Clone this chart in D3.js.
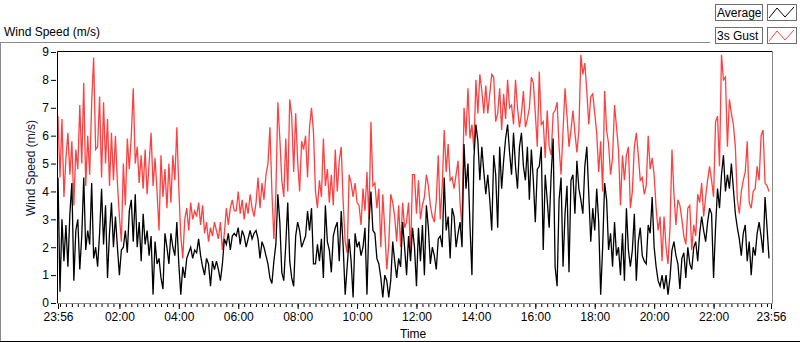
<!DOCTYPE html>
<html>
<head>
<meta charset="utf-8">
<script src="https://cdn.jsdelivr.net/npm/d3@7"></script>
<style>
  html, body { margin: 0; padding: 0; background: #fff; }
  svg { display: block; font-family: "Liberation Sans", Arial, sans-serif; }
</style>
</head>
<body>
<svg id="chart" width="800" height="342"></svg>
<script>
// series names as shown in the legend
const seriesNames = ['Average', '3s Gust'];

// one sample every 4 minutes, starting at 23:56
const stepMinutes = 4;

const yTicks = [0, 1, 2, 3, 4, 5, 6, 7, 8, 9];
const xTickLabels = ['23:56', '02:00', '04:00', '06:00', '08:00', '10:00', '12:00',
  '14:00', '16:00', '18:00', '20:00', '22:00', '23:56'];

// 3 second gust (m/s)
const gust = [
  6.7, 4.5, 6.6, 3.8, 5.2, 6.1, 4.6, 5.8, 3.5, 5.5,
  4.8, 7.1, 5.0, 7.9, 4.2, 6.0, 4.6, 7.2, 8.8, 5.5,
  5.6, 7.4, 4.5, 7.2, 5.0, 6.6, 4.2, 6.1, 4.4, 6.0,
  4.3, 3.1, 2.2, 5.0, 3.5, 5.9, 4.8, 6.0, 7.7, 5.0,
  5.6, 4.3, 5.3, 4.1, 5.5, 3.9, 5.0, 6.1, 4.2, 5.2,
  4.0, 2.6, 5.3, 3.8, 4.8, 3.4, 5.0, 3.6, 5.3, 4.4,
  6.3, 4.1, 2.4, 1.6, 3.0, 3.4, 2.6, 3.6, 3.0, 3.3,
  3.1, 3.6, 2.8, 3.5, 2.5, 2.9, 2.2, 2.7, 2.4, 2.9,
  2.6, 2.3, 2.9, 1.9, 2.5, 3.4, 2.8, 3.4, 3.7, 3.3,
  3.3, 4.0, 3.2, 3.7, 3.0, 3.6, 3.2, 3.9, 3.4, 3.1,
  3.6, 4.5, 3.4, 4.3, 3.7, 4.6, 5.0, 6.3, 4.0, 2.3,
  3.9, 7.2, 5.9, 4.4, 3.8, 5.9, 4.0, 7.3, 6.7, 4.7,
  6.8, 5.1, 4.0, 5.8, 5.5, 6.0, 4.5, 6.3, 7.0, 6.1,
  4.0, 3.4, 4.4, 3.8, 5.9, 4.2, 4.8, 3.6, 4.6, 3.5,
  5.5, 4.0, 5.1, 5.6, 3.6, 2.2, 1.8, 4.6, 4.3, 3.8,
  4.3, 3.6, 3.5, 2.8, 4.1, 3.3, 4.7, 3.0, 6.5, 4.2,
  4.3, 3.4, 4.1, 2.0, 3.9, 2.6, 1.2, 2.1, 3.9, 3.6,
  3.1, 2.2, 3.5, 2.0, 3.6, 2.7, 2.9, 3.6, 1.8, 4.6,
  4.6, 3.2, 4.4, 3.0, 3.5, 3.8, 4.6, 4.2, 3.5, 3.1,
  2.9, 3.7, 5.3, 3.0, 4.2, 6.2, 4.7, 5.7, 4.4, 4.5,
  4.1, 4.6, 5.1, 3.6, 2.7, 7.0, 6.0, 7.7, 5.9, 6.4,
  5.5, 8.0, 6.8, 8.2, 7.6, 6.8, 7.8, 6.8, 7.5, 8.2,
  8.1, 6.5, 6.8, 7.7, 6.2, 7.5, 6.6, 8.0, 7.0, 7.1,
  6.4, 8.0, 7.0, 6.3, 6.8, 7.6, 6.3, 6.6, 7.0, 8.1,
  7.9, 6.8, 5.6, 8.3, 6.4, 6.5, 5.2, 6.9, 5.6, 5.3,
  6.8, 6.9, 7.2, 5.6, 4.6, 6.2, 7.7, 6.7, 5.6, 6.2,
  6.9, 6.1, 5.4, 6.2, 8.9, 8.2, 8.6, 7.6, 6.4, 7.4,
  7.5, 6.8, 6.1, 4.7, 5.8, 4.0, 7.6, 6.2, 5.7, 4.6,
  5.2, 7.1, 6.3, 5.5, 3.5, 5.3, 4.4, 5.3, 5.6, 3.4,
  4.0, 5.6, 6.1, 5.3, 4.4, 4.5, 3.9, 4.2, 6.0, 4.8,
  5.2, 4.6, 3.4, 2.6, 3.1, 1.5, 3.1, 2.0, 1.4, 2.7,
  5.5, 3.9, 2.8, 3.7, 3.5, 3.0, 2.4, 2.1, 3.4, 3.5,
  1.9, 2.8, 2.4, 3.9, 3.6, 4.3, 3.1, 3.8, 4.4, 4.9,
  4.4, 3.8, 6.5, 6.7, 4.9, 8.9, 8.0, 8.1, 5.6, 7.3,
  6.8, 6.4, 5.6, 3.7, 3.2, 4.0, 4.4, 4.7, 5.8, 3.6,
  3.4, 4.0, 4.1, 4.9, 4.4, 6.0, 6.2, 4.3, 4.2, 4.0
];

// average wind speed (m/s)
const average = [
  4.5, 0.4, 3.0, 1.5, 2.8, 1.3, 3.2, 4.3, 0.8, 2.6,
  3.0, 1.2, 2.4, 4.5, 1.9, 2.6, 2.1, 4.3, 1.6, 2.0,
  1.3, 2.5, 4.1, 2.1, 3.5, 0.9, 2.5, 3.6, 2.0, 3.1,
  2.0, 1.0, 1.9, 2.0, 2.6, 1.8, 3.3, 3.7, 2.2, 3.9,
  2.0, 2.9, 1.5, 3.2, 2.1, 2.6, 1.7, 2.4, 0.3, 2.2,
  1.4, 1.6, 0.9, 0.5, 2.5, 2.0, 1.4, 2.5, 2.0, 1.7,
  2.9, 1.4, 0.3, 1.3, 0.9, 1.6, 1.8, 2.0, 1.6, 1.9,
  1.8, 2.3, 1.7, 1.3, 1.0, 1.6, 1.4, 0.6, 1.5, 1.2,
  1.5, 1.2, 0.8, 1.4, 2.3, 2.1, 2.5, 1.9, 2.4, 2.5,
  2.4, 2.7, 2.1, 2.6, 2.4, 2.0, 2.3, 2.6, 2.3, 2.5,
  2.6, 2.3, 1.6, 2.2, 2.0, 1.7, 1.4, 0.9, 0.7, 1.5,
  2.1, 3.9, 2.9, 1.1, 0.8, 2.1, 3.6, 1.5, 0.9, 0.6,
  2.4, 2.9, 2.6, 2.0, 2.2, 2.4, 3.3, 2.6, 3.4, 1.4,
  1.4, 2.1, 1.5, 2.3, 0.9, 3.5, 2.2, 1.9, 1.1, 2.4,
  2.7, 2.9, 1.5, 3.3, 2.0, 0.3, 1.3, 2.3, 1.5, 0.2,
  2.5, 2.0, 2.2, 1.7, 2.0, 2.7, 0.3, 2.9, 4.0, 2.6,
  2.5, 1.6, 1.4, 0.9, 0.2, 1.0, 0.8, 0.2, 0.8, 2.2,
  1.5, 0.9, 1.6, 1.3, 2.9, 2.0, 1.0, 2.4, 1.5, 2.7,
  2.0, 0.6, 2.7, 1.5, 2.8, 1.0, 3.5, 2.7, 1.4, 2.0,
  1.7, 1.2, 2.3, 2.4, 2.0, 4.5, 2.6, 3.1, 1.6, 3.4,
  3.1, 2.0, 2.5, 2.9, 2.0, 5.7, 4.1, 5.0, 2.8, 1.0,
  5.2, 6.4, 5.8, 4.4, 5.6, 4.7, 3.9, 4.6, 3.7, 2.6,
  5.3, 4.6, 2.7, 5.6, 4.1, 5.1, 5.9, 6.4, 5.4, 4.6,
  6.1, 4.9, 4.1, 5.6, 6.1, 4.9, 4.4, 5.6, 3.7, 5.5,
  4.4, 2.9, 4.8, 4.9, 5.6, 1.9, 4.6, 3.7, 2.7, 4.6,
  5.9, 1.3, 0.6, 3.7, 4.5, 1.3, 3.2, 4.2, 1.1, 4.4,
  4.6, 3.2, 5.1, 4.1, 3.7, 3.2, 4.9, 5.6, 3.9, 2.2,
  3.4, 2.6, 4.1, 2.9, 0.3, 2.0, 4.3, 3.7, 1.9, 2.5,
  1.3, 2.9, 1.7, 2.0, 1.0, 2.5, 0.8, 3.4, 1.9, 1.3,
  1.9, 3.2, 0.8, 2.2, 2.7, 1.7, 1.5, 1.4, 2.8, 2.5,
  3.8, 2.0, 1.3, 0.8, 0.6, 1.0, 0.5, 1.0, 0.3, 0.9,
  1.9, 2.2, 1.7, 1.4, 0.5, 1.6, 1.8, 0.9, 2.0, 1.4,
  1.2, 2.0, 2.2, 1.5, 2.5, 3.1, 2.6, 2.2, 2.9, 3.4,
  3.2, 0.9, 2.7, 4.1, 3.4, 4.6, 5.3, 4.0, 4.6, 4.1,
  5.0, 4.1, 3.2, 2.7, 2.3, 1.7, 2.5, 2.8, 1.5, 2.2,
  1.0, 2.0, 1.7, 2.5, 2.9, 2.4, 1.8, 3.8, 2.7, 1.6
];

const colors = { average: '#000000', gust: '#ff4040' };
const frameGray = '#8a8a8a';

const svg = d3.select('#chart');
const margin = { left: 57, right: 772, top: 52, bottom: 303 };

// time scale: 24 hours starting at 23:56
const t0 = new Date(2020, 0, 1, 23, 56);
const t1 = d3.timeMinute.offset(t0, 1440);
const x = d3.scaleTime().domain([t0, t1]).range([58, 771]);
const y = d3.scaleLinear().domain([0, 9]).range([margin.bottom, margin.top]);

const timeAt = i => d3.timeMinute.offset(t0, i * stepMinutes);

// tick dates built from the label list
const xTickDates = xTickLabels.map((lab, i) => {
  if (i === xTickLabels.length - 1) return t1;
  const [h, m] = lab.split(':').map(Number);
  let mins = h * 60 + m - (23 * 60 + 56);
  if (mins < 0) mins += 1440;
  return d3.timeMinute.offset(t0, mins);
});
const minorDates = d3.timeMinute.every(12).range(t0, t1);

// outer panel
svg.append('line').attr('x1', 0).attr('x2', 710).attr('y1', 42.5).attr('y2', 42.5)
  .attr('stroke', frameGray);
svg.append('line').attr('x1', 0.5).attr('x2', 0.5).attr('y1', 42).attr('y2', 342)
  .attr('stroke', frameGray);
svg.append('line').attr('x1', 0).attr('x2', 800).attr('y1', 341.5).attr('y2', 341.5)
  .attr('stroke', '#000');

svg.append('text')
  .attr('x', 4).attr('y', 36)
  .style('font-size', '12px')
  .text('Wind Speed (m/s)');

// legend
const legend = svg.append('g');
seriesNames.forEach((name, i) => {
  const gy = 4 + i * 23;
  legend.append('rect').attr('x', 715.5).attr('y', gy + 0.5).attr('width', 47).attr('height', 16)
    .attr('fill', '#fff').attr('stroke', '#6e6e6e');
  legend.append('text').attr('x', 717).attr('y', gy + 13)
    .style('font-size', '12px').text(name);
  legend.append('rect').attr('x', 767.5).attr('y', gy + 0.5).attr('width', 29).attr('height', 16)
    .attr('fill', '#fff').attr('stroke', '#6e6e6e');
  legend.append('path')
    .attr('d', `M769,${gy + 14} L777,${gy + 4} L785,${gy + 13} L794,${gy + 3}`)
    .attr('fill', 'none')
    .attr('stroke', i === 0 ? colors.average : colors.gust);
});

// plot area
const plot = svg.append('g');
plot.append('rect').attr('x', margin.left).attr('y', 51)
  .attr('width', margin.right - margin.left).attr('height', margin.bottom - 51)
  .attr('fill', '#fff');

plot.append('defs').append('clipPath').attr('id', 'clip')
  .append('rect').attr('x', margin.left + 1).attr('y', 52)
  .attr('width', margin.right - margin.left - 1).attr('height', margin.bottom - 52);

const line = d3.line()
  .x((d, i) => x(timeAt(i)))
  .y(d => y(d));

const lines = plot.append('g').attr('clip-path', 'url(#clip)');
lines.append('path')
  .datum(gust)
  .attr('d', line)
  .attr('fill', 'none')
  .attr('stroke', colors.gust)
  .attr('stroke-width', 1.3);
lines.append('path')
  .datum(average)
  .attr('d', line)
  .attr('fill', 'none')
  .attr('stroke', colors.average)
  .attr('stroke-width', 1.3);

// frame: dark top/left, gray bottom/right
plot.append('path')
  .attr('d', `M${margin.left + 0.5},${margin.bottom} V51.5 H${margin.right}`)
  .attr('fill', 'none').attr('stroke', '#000');
plot.append('path')
  .attr('d', `M${margin.left},${margin.bottom + 0.5} H${margin.right + 0.5} V51`)
  .attr('fill', 'none').attr('stroke', frameGray);

// y axis
const yAxis = svg.append('g')
  .attr('transform', `translate(${margin.left},0)`)
  .call(d3.axisLeft(y).tickValues(yTicks).tickSize(5).tickPadding(3).tickFormat(d3.format('d')));
yAxis.select('.domain').remove();
yAxis.selectAll('line').attr('stroke', '#000').attr('transform', 'translate(-1,0)');
yAxis.selectAll('text').style('font-size', '12px').attr('fill', '#000');
yAxis.attr('font-family', null);

// x axis minor ticks
svg.append('g')
  .attr('transform', `translate(0,${margin.bottom + 1})`)
  .call(d3.axisBottom(x).tickValues(minorDates).tickSize(3).tickFormat(''))
  .call(g => g.select('.domain').remove())
  .call(g => g.selectAll('line').attr('stroke', '#000'));

// x axis major ticks with labels
const fmt = (d, i) => xTickLabels[i];
const xAxis = svg.append('g')
  .attr('transform', `translate(0,${margin.bottom + 1})`)
  .call(d3.axisBottom(x).tickValues(xTickDates).tickSize(5).tickPadding(3).tickFormat(fmt));
xAxis.select('.domain').remove();
xAxis.selectAll('line').attr('stroke', '#000');
xAxis.selectAll('text').style('font-size', '12px').attr('fill', '#000');
xAxis.attr('font-family', null);

// axis titles
svg.append('text')
  .attr('x', 400).attr('y', 338)
  .style('font-size', '12px')
  .text('Time');

svg.append('text')
  .attr('transform', 'translate(35,168) rotate(-90)')
  .attr('text-anchor', 'middle')
  .style('font-size', '12px')
  .attr('fill', '#0f1a3a')
  .text('Wind Speed (m/s)');
</script>
</body>
</html>
